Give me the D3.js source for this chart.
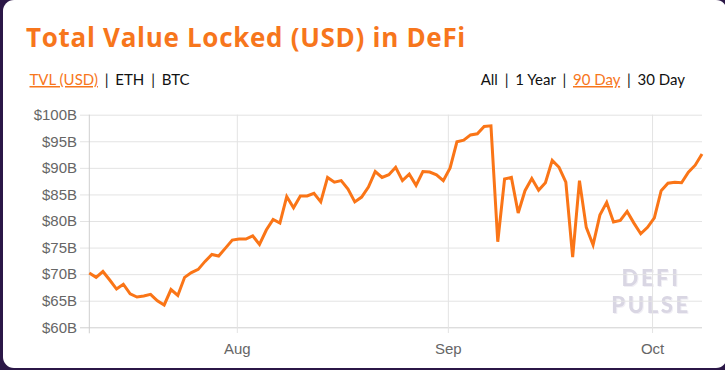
<!DOCTYPE html>
<html>
<head>
<meta charset="utf-8">
<script src="https://cdn.jsdelivr.net/npm/d3@7"></script>
<style>
  html, body { margin: 0; padding: 0; background: #2b1747; }
  svg { display: block; }
</style>
</head>
<body>
<div id="chart"></div>
<script>
// daily TVL readings (USD billions), one per day starting Jul 10 2021
const firstDay = new Date(2021, 6, 10, 8);
const tvl = [
  70.2, 69.4, 70.5, 68.9, 67.2, 68.1, 66.3, 65.7, 65.9, 66.2,
  65.0, 64.2, 67.1, 66.0, 69.4, 70.3, 70.9, 72.4, 73.7, 73.4,
  74.9, 76.4, 76.6, 76.6, 77.2, 75.6, 78.3, 80.3, 79.6, 84.6,
  82.5, 84.7, 84.7, 85.2, 83.6, 88.2, 87.3, 87.6, 86.0, 83.6,
  84.5, 86.4, 89.3, 88.2, 88.7, 90.1, 87.6, 88.8, 86.7, 89.3,
  89.2, 88.7, 87.6, 90.0, 94.9, 95.2, 96.2, 96.4, 97.8, 97.9,
  76.1, 87.9, 88.2, 81.5, 85.7, 88.0, 85.8, 87.2, 91.4, 90.1,
  87.3, 73.2, 87.6, 78.8, 75.5, 81.1, 83.5, 79.8, 80.1, 81.8,
  79.6, 77.6, 78.8, 80.6, 85.7, 87.1, 87.3, 87.2, 89.2, 90.5,
  92.6
];
const yTicks = [60, 65, 70, 75, 80, 85, 90, 95, 100];
const metricTabs = ["TVL (USD)", "ETH", "BTC"];
const rangeTabs = ["All", "1 Year", "90 Day", "30 Day"];
const activeMetric = "TVL (USD)";
const activeRange = "90 Day";

const series = tvl.map((v, i) => ({ date: d3.timeDay.offset(firstDay, i), value: v }));

const colors = {
  card: "#ffffff",
  orange: "#f7761c",
  line: "#fa7517",
  grid: "#e3e3e3",
  axis: "#cfcfcf",
  tickText: "#666666",
  text: "#111111",
  mark: "#d9d6e3"
};

const W = 725, H = 370;
const plot = { left: 89.3, right: 702, top: 114.7, bottom: 327.3 };

const svg = d3.select("#chart")
  .append("svg")
  .attr("width", W)
  .attr("height", H);

const defs = svg.append("defs");
defs.append("filter")
  .attr("id", "markShadow")
  .append("feDropShadow")
  .attr("dx", 1).attr("dy", 1)
  .attr("stdDeviation", 0.4)
  .attr("flood-color", "#f1eff5");

// white card
svg.append("rect")
  .attr("x", 3).attr("y", 0)
  .attr("width", 724).attr("height", 368)
  .attr("rx", 11)
  .attr("fill", colors.card);

// title
svg.append("text")
  .attr("x", 26).attr("y", 47)
  .attr("fill", colors.orange)
  .style("font-family", "Open Sans")
  .style("font-weight", 700)
  .style("font-size", "26px")
  .style("letter-spacing", "0.7px")
  .text("Total Value Locked (USD) in DeFi");

// tab rows
function tabRow(items, active, x, anchor) {
  const t = svg.append("text")
    .attr("x", x).attr("y", 85)
    .attr("text-anchor", anchor)
    .style("font-family", "Lato")
    .style("font-size", "15px");
  items.forEach((d, i) => {
    if (i > 0) t.append("tspan").attr("dx", 3).attr("fill", colors.text).text(" | ");
    t.append("tspan")
      .attr("dx", i > 0 ? 3 : 0)
      .attr("fill", d === active ? colors.orange : colors.text)
      .style("text-decoration", d === active ? "underline" : "none")
      .text(d);
  });
}
tabRow(metricTabs, activeMetric, 29.5, "start");
tabRow(rangeTabs, activeRange, 685, "end");

const x = d3.scaleTime()
  .domain(d3.extent(series, d => d.date))
  .range([plot.left, plot.right]);
const y = d3.scaleLinear()
  .domain([60, 100])
  .range([plot.bottom, plot.top]);

// watermark
const mark = svg.append("g")
  .style("font-family", "Lato")
  .style("font-weight", 900)
  .style("font-size", "22px")
  .style("letter-spacing", "2.6px")
  .attr("text-anchor", "middle")
  .attr("fill", colors.mark)
  .attr("filter", "url(#markShadow)");
mark.append("text").attr("x", 651).attr("y", 286).text("DEFI");
mark.append("text").attr("x", 651).attr("y", 313).text("PULSE");

// y grid + labels
const yAxis = svg.append("g")
  .attr("transform", `translate(80,0)`)
  .call(d3.axisLeft(y)
    .tickValues(yTicks)
    .tickSize(-(plot.right - 80))
    .tickPadding(3)
    .tickFormat(d => `$${d}B`));
yAxis.select(".domain").remove();
yAxis.selectAll("line")
  .attr("stroke", d => d === 60 ? colors.axis : colors.grid);
yAxis.selectAll("text")
  .attr("fill", colors.tickText)
  .style("font-family", "Liberation Sans, Arial")
  .style("font-size", "15px");

// x grid + labels
const xAxis = svg.append("g")
  .attr("transform", `translate(0,333)`)
  .call(d3.axisBottom(x)
    .ticks(d3.timeMonth.every(1))
    .tickSize(-(333 - plot.top))
    .tickPadding(10)
    .tickFormat(d3.timeFormat("%b")));
xAxis.select(".domain").remove();
xAxis.selectAll("line").attr("stroke", colors.grid);
xAxis.selectAll("text")
  .attr("fill", colors.tickText)
  .style("font-family", "Liberation Sans, Arial")
  .style("font-size", "15px");

// left axis line
svg.append("line")
  .attr("x1", plot.left).attr("x2", plot.left)
  .attr("y1", plot.top).attr("y2", plot.bottom + 6)
  .attr("stroke", colors.axis);

// TVL line
svg.append("path")
  .datum(series)
  .attr("fill", "none")
  .attr("stroke", colors.line)
  .attr("stroke-width", 3)
  .attr("stroke-linejoin", "miter")
  .attr("d", d3.line().x(d => x(d.date)).y(d => y(d.value)));
</script>
</body>
</html>
